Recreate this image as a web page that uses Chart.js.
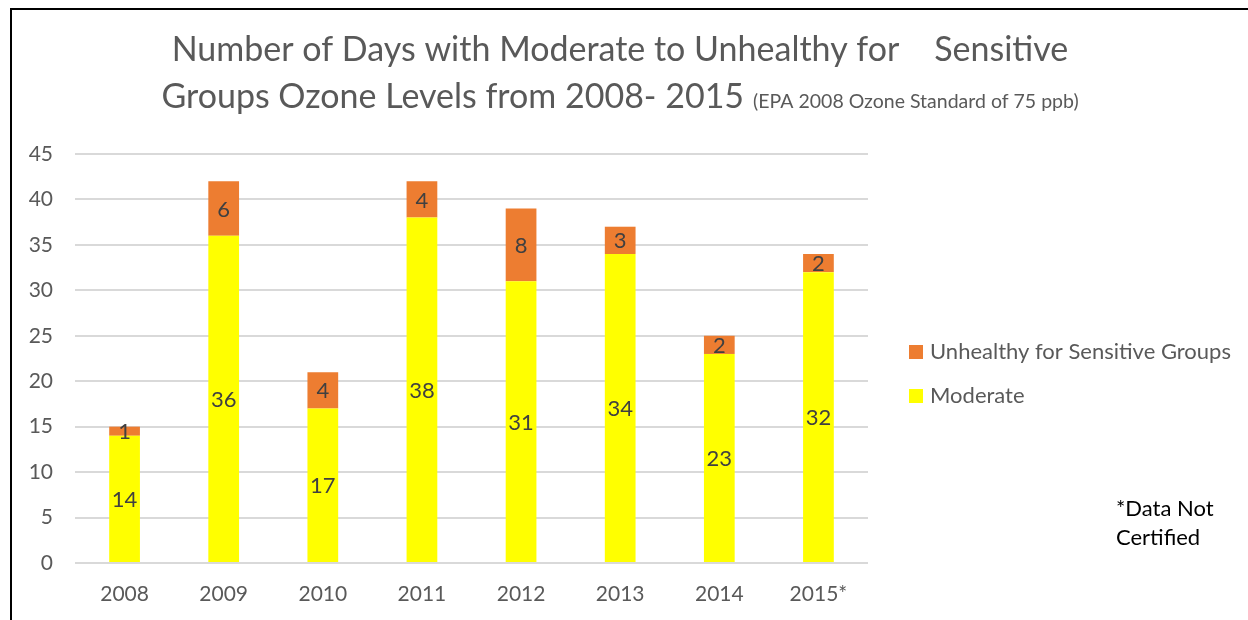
<!DOCTYPE html>
<html>
<head>
<meta charset="utf-8">
<script src="https://cdn.jsdelivr.net/npm/chart.js@4"></script>
<style>
  html, body { margin: 0; padding: 0; background: #fff; }
  #wrap { width: 1248px; height: 620px; position: relative; }
</style>
</head>
<body>
<div id="wrap"><canvas id="ozoneChart" width="1248" height="620"></canvas></div>
<script>
// chart data
const years = ["2008", "2009", "2010", "2011", "2012", "2013", "2014", "2015*"];
const moderateDays = [14, 36, 17, 38, 31, 34, 23, 32];
const unhealthyDays = [1, 6, 4, 4, 8, 3, 2, 2];
const yTicks = [0, 5, 10, 15, 20, 25, 30, 35, 40, 45];

const titleLine1 = "Number of Days with Moderate to Unhealthy for    Sensitive";
const titleLine2 = "Groups Ozone Levels from 2008- 2015";
const titleNote = "(EPA 2008 Ozone Standard of 75 ppb)";
const footNote = ["*Data Not", "Certified"];

const FONT = "Lato, 'Open Sans', sans-serif";

// frame lines round the picture
const framePlugin = {
    id: "frame",
    beforeDraw(chart) {
        const ctx = chart.ctx;
        ctx.save();
        ctx.fillStyle = "#fff";
        ctx.fillRect(0, 0, chart.width, chart.height);
        ctx.strokeStyle = "#000";
        ctx.lineWidth = 2;
        ctx.beginPath();
        ctx.moveTo(11, 620);
        ctx.lineTo(11, 9);
        ctx.lineTo(1248, 9);
        ctx.stroke();
        ctx.restore();
    }
};

// title, legend, footnote and value labels
const textPlugin = {
    id: "texts",
    afterDraw(chart) {
        const ctx = chart.ctx;
        ctx.save();
        ctx.textBaseline = "middle";

        // title
        ctx.fillStyle = "#595959";
        ctx.font = "34px " + FONT;
        ctx.textAlign = "center";
        ctx.fillText(titleLine1, 620, 50);
        ctx.textAlign = "left";
        const w2 = ctx.measureText(titleLine2).width;
        ctx.font = "19.5px " + FONT;
        const wn = ctx.measureText(titleNote).width;
        const x2 = 620 - (w2 + 9 + wn) / 2;
        ctx.font = "34px " + FONT;
        ctx.fillText(titleLine2, x2, 97);
        ctx.font = "19.5px " + FONT;
        ctx.fillText(titleNote, x2 + w2 + 9, 102);

        // value labels
        ctx.font = "22px " + FONT;
        ctx.fillStyle = "#404040";
        ctx.textAlign = "center";
        chart.data.datasets.forEach((ds, i) => {
            const meta = chart.getDatasetMeta(i);
            meta.data.forEach((bar, j) => {
                const mid = (bar.y + bar.base) / 2;
                ctx.fillText(String(ds.data[j]), bar.x, mid + 1);
            });
        });

        // legend (top item is the upper stack)
        const items = chart.data.datasets.slice().reverse();
        ctx.font = "22px " + FONT;
        ctx.textAlign = "left";
        items.forEach((ds, i) => {
            const y = 352 + i * 44;
            ctx.fillStyle = ds.backgroundColor;
            ctx.fillRect(909, y - 7, 14, 14);
            ctx.fillStyle = "#595959";
            ctx.fillText(ds.label, 930, y);
        });

        // footnote
        ctx.fillStyle = "#000";
        ctx.font = "22px " + FONT;
        footNote.forEach((line, i) => {
            ctx.fillText(line, 1116, 509 + i * 29);
        });
        ctx.restore();
    }
};

const ctx = document.getElementById("ozoneChart").getContext("2d");
const ozoneChart = new Chart(ctx, {
    type: "bar",
    data: {
        labels: years,
        datasets: [
            {
                label: "Moderate",
                data: moderateDays,
                backgroundColor: "#FFFF00",
                barPercentage: 0.62,
                categoryPercentage: 0.5
            },
            {
                label: "Unhealthy for Sensitive Groups",
                data: unhealthyDays,
                backgroundColor: "#ED7D31",
                barPercentage: 0.62,
                categoryPercentage: 0.5
            }
        ]
    },
    options: {
        responsive: false,
        animation: false,
        layout: {
            padding: { left: 12, right: 380, top: 154, bottom: 0 }
        },
        plugins: {
            legend: { display: false },
            title: { display: false },
            tooltip: { enabled: false }
        },
        scales: {
            x: {
                stacked: true,
                grid: { display: false, drawTicks: false },
                border: { display: false },
                ticks: {
                    color: "#595959",
                    font: { family: FONT, size: 21 },
                    padding: 19
                },
                afterFit(scale) { scale.height = 57; }
            },
            y: {
                stacked: true,
                min: 0,
                max: 45,
                afterBuildTicks(scale) {
                    scale.ticks = yTicks.map(v => ({ value: v }));
                },
                grid: { color: "#d9d9d9", lineWidth: 2, drawTicks: false },
                border: { display: false },
                ticks: {
                    color: "#595959",
                    font: { family: FONT, size: 21 },
                    padding: 22
                },
                afterFit(scale) { scale.width = 63; }
            }
        }
    },
    plugins: [framePlugin, textPlugin]
});
</script>
</body>
</html>
